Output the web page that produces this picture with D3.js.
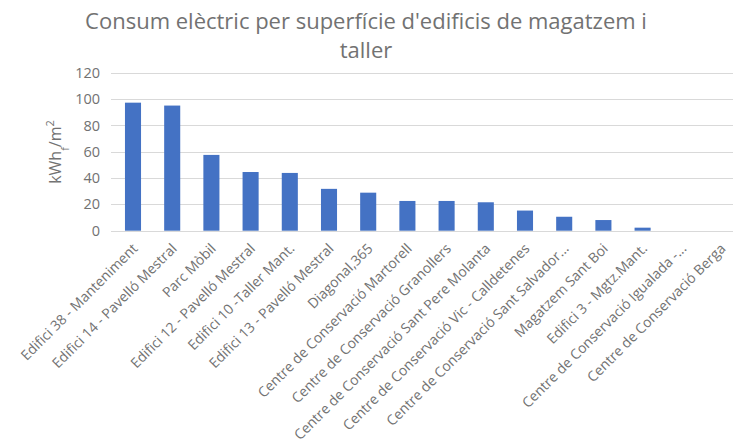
<!DOCTYPE html>
<html>
<head>
<meta charset="utf-8">
<script src="https://cdn.jsdelivr.net/npm/d3@7"></script>
<style>
  html, body { margin: 0; padding: 0; background: #fff; }
  svg { display: block; }
  text { font-family: "Open Sans", "DejaVu Sans", sans-serif; fill: #727272; }
</style>
</head>
<body>
<svg id="chart" width="733" height="447"></svg>
<script>
const categories = [
  "Edifici 38 - Manteniment",
  "Edifici 14 - Pavelló Mestral",
  "Parc Mòbil",
  "Edifici 12 - Pavelló Mestral",
  "Edifici 10 -Taller Mant.",
  "Edifici 13 - Pavelló Mestral",
  "Diagonal,365",
  "Centre de Conservació Martorell",
  "Centre de Conservació Granollers",
  "Centre de Conservació Sant Pere Molanta",
  "Centre de Conservació Vic - Calldetenes",
  "Centre de Conservació Sant Salvador...",
  "Magatzem Sant Boi",
  "Edifici 3 - Mgtz.Mant.",
  "Centre de Conservació Igualada -...",
  "Centre de Conservació Berga"
];
const values = [97.3, 95.1, 57.6, 44.6, 43.9, 31.8, 28.9, 22.6, 22.6, 21.6, 15.3, 10.6, 8.1, 2.3, 0, 0];
const yTicks = [0, 20, 40, 60, 80, 100, 120];
const titleLines = ["Consum elèctric per superfície d'edificis de magatzem i", "taller"];

const svg = d3.select("#chart");
const margin = { left: 113.4, right: 740.6, top: 72.8, bottom: 230.7 };

const x = d3.scaleBand()
  .domain(categories)
  .range([margin.left, margin.right])
  .paddingInner(0.59)
  .paddingOuter(0.295);

const y = d3.scaleLinear()
  .domain([0, 120])
  .range([margin.bottom, margin.top]);

// gridlines
svg.append("g")
  .selectAll("line")
  .data(yTicks)
  .join("line")
  .attr("x1", 111)
  .attr("x2", 741)
  .attr("y1", d => Math.round(y(d)) + 0.5)
  .attr("y2", d => Math.round(y(d)) + 0.5)
  .attr("stroke", "#d9d9d9")
  .attr("stroke-width", 1);

// y tick labels
svg.append("g")
  .selectAll("text")
  .data(yTicks)
  .join("text")
  .attr("x", 100)
  .attr("y", d => y(d))
  .attr("dy", "0.35em")
  .attr("text-anchor", "end")
  .style("font-size", "14.5px")
  .text(d => d);

// bars
svg.append("g")
  .selectAll("rect")
  .data(values)
  .join("rect")
  .attr("x", (d, i) => x(categories[i]))
  .attr("width", x.bandwidth())
  .attr("y", d => y(d))
  .attr("height", d => y(0) - y(d))
  .attr("fill", "#4472c4");

// x labels
svg.append("g")
  .selectAll("text")
  .data(categories)
  .join("text")
  .attr("transform", d => `translate(${x(d) + x.bandwidth() / 2 + 2},${246}) rotate(-45)`)
  .attr("text-anchor", "end")
  .attr("dy", "0.35em")
  .style("font-size", "14px")
  .text(d => d);

// y-axis title
const yt = svg.append("text")
  .attr("transform", "translate(61,152) rotate(-90)")
  .attr("text-anchor", "middle")
  .style("font-size", "16px");
yt.append("tspan").text("kWh");
yt.append("tspan").text("f").attr("baseline-shift", "sub").style("font-size", "11px");
yt.append("tspan").text("/m");
yt.append("tspan").text("2").attr("baseline-shift", "super").style("font-size", "11px");

// title
svg.append("g")
  .selectAll("text")
  .data(titleLines)
  .join("text")
  .attr("x", 366)
  .attr("y", (d, i) => 29 + i * 29)
  .attr("text-anchor", "middle")
  .style("font-size", "22px")
  .text(d => d);
</script>
</body>
</html>
